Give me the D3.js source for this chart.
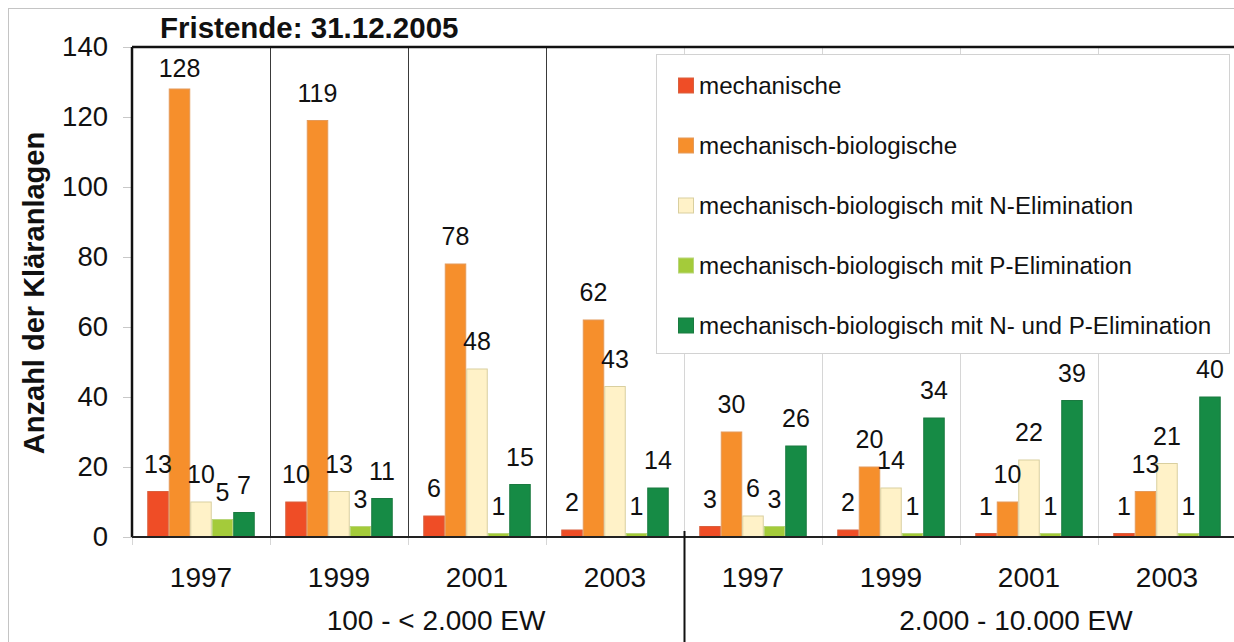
<!DOCTYPE html>
<html>
<head>
<meta charset="utf-8">
<script src="https://cdn.jsdelivr.net/npm/d3@7"></script>
<style>
  body { margin: 0; background: #fff; }
  svg text { font-family: "Liberation Sans", Arial, sans-serif; fill: #111; }
</style>
</head>
<body>
<div id="c"></div>
<script>
"use strict";

// categories
const years = ["1997", "1999", "2001", "2003", "1997", "1999", "2001", "2003"]
const sizeClasses = ["100 - < 2.000 EW", "2.000 - 10.000 EW"]
const yTicks = [0, 20, 40, 60, 80, 100, 120, 140]

// series
const seriesNames = [
    "mechanische",
    "mechanisch-biologische",
    "mechanisch-biologisch mit N-Elimination",
    "mechanisch-biologisch mit P-Elimination",
    "mechanisch-biologisch mit N- und P-Elimination"
]
const mechanische = [13, 10, 6, 2, 3, 2, 1, 1]
const mechBio = [128, 119, 78, 62, 30, 20, 10, 13]
const mechBioN = [10, 13, 48, 43, 6, 14, 22, 21]
const mechBioP = [5, 3, 1, 1, 3, 1, 1, 1]
const mechBioNP = [7, 11, 15, 14, 26, 34, 39, 40]

const seriesValues = [mechanische, mechBio, mechBioN, mechBioP, mechBioNP]
const fills = ["#ef4d26", "#f68f2c", "#fff2c8", "#a4cb3a", "#168b45"]
const strokes = ["#d9603e", "#e49a5a", "#d9cf9f", "#b9d67a", "#1a7a40"]

const W = 1234, H = 642
const margin = { left: 132, top: 47, right: -2, bottom: 105 }
const plotW = W - margin.left - margin.right
const plotH = H - margin.top - margin.bottom

let svg = d3.select('#c').append('svg')
    .attr('width', W)
    .attr('height', H)

// outer frame
svg.append('rect')
    .attr('x', 8.5).attr('y', 8.5)
    .attr('width', 1300).attr('height', 700)
    .attr('fill', 'none')
    .attr('stroke', '#c4c4c4')

let groups = d3.range(years.length)
let xScale = d3.scaleBand()
    .domain(groups)
    .range([margin.left, margin.left + plotW])
let xInner = d3.scaleBand()
    .domain(d3.range(seriesNames.length))
    .range([0, xScale.bandwidth()])
    .paddingOuter(0.71)
let yScale = d3.scaleLinear()
    .domain([0, 140])
    .range([margin.top + plotH, margin.top])

const y0 = yScale(0)

// vertical separators between the years
groups.slice(1).forEach(i => {
    let x = Math.round(xScale(i)) + 0.5
    let dark = i < 4
    svg.append('line')
        .attr('x1', x).attr('x2', x)
        .attr('y1', margin.top).attr('y2', dark ? y0 : y0 + 8)
        .attr('stroke', dark ? '#3a3a3a' : '#d6d6d6')
})
// small ticks under the axis
groups.slice(0, 4).forEach(i => {
    let x = Math.round(xScale(i)) + 0.5
    svg.append('line')
        .attr('x1', x).attr('x2', x)
        .attr('y1', y0).attr('y2', y0 + 8)
        .attr('stroke', '#d6d6d6')
})

// y axis
let yAxis = svg.append('g')
    .attr('transform', 'translate(' + margin.left + ',0)')
    .call(d3.axisLeft(yScale).tickValues(yTicks).tickSize(9).tickPadding(15))
yAxis.select('.domain').remove()
yAxis.selectAll('line').attr('stroke', '#c8c8c8')
yAxis.selectAll('text')
    .style('font-size', '27.5px')
    .attr('fill', '#111')

svg.append('line')
    .attr('x1', margin.left).attr('x2', margin.left)
    .attr('y1', margin.top).attr('y2', y0)
    .attr('stroke', '#111').attr('stroke-width', 2.5)
svg.append('line')
    .attr('x1', margin.left).attr('x2', W)
    .attr('y1', margin.top).attr('y2', margin.top)
    .attr('stroke', '#111').attr('stroke-width', 2.5)

// legend box
let legend = svg.append('g')
legend.append('rect')
    .attr('x', 656.5).attr('y', 54.5)
    .attr('width', 573).attr('height', 299)
    .attr('fill', '#fff')
    .attr('stroke', '#d2d2d2')
seriesNames.forEach((name, i) => {
    let cy = 85.5 + i * 60
    legend.append('rect')
        .attr('x', 678.5).attr('y', cy - 7.5)
        .attr('width', 15).attr('height', 15)
        .attr('fill', fills[i])
        .attr('stroke', strokes[i])
    legend.append('text')
        .attr('x', 699).attr('y', cy)
        .attr('dy', '0.35em')
        .style('font-size', '24.2px')
        .text(name)
})

// bars
let barLayer = svg.append('g')
seriesValues.forEach((vals, s) => {
    barLayer.selectAll('rect.s' + s)
        .data(vals)
        .enter()
        .append('rect')
            .attr('class', 's' + s)
            .attr('x', (d, i) => xScale(i) + xInner(s) + 0.5)
            .attr('y', d => yScale(d))
            .attr('width', xInner.bandwidth() - 1)
            .attr('height', d => y0 - yScale(d))
            .attr('fill', fills[s])
            .attr('stroke', strokes[s])
            .attr('stroke-width', 1)
})

// x axis line
svg.append('line')
    .attr('x1', margin.left).attr('x2', W)
    .attr('y1', y0).attr('y2', y0)
    .attr('stroke', '#222').attr('stroke-width', 2)

// value labels
seriesValues.forEach((vals, s) => {
    svg.append('g').selectAll('text')
        .data(vals)
        .enter()
        .append('text')
            .attr('x', (d, i) => xScale(i) + xInner(s) + xInner.bandwidth() / 2)
            .attr('y', d => Math.max(yScale(d) - 19, margin.top + 30))
            .attr('text-anchor', 'middle')
            .style('font-size', '25px')
            .text(d => d)
})

// category labels
svg.append('g').selectAll('text')
    .data(years)
    .enter()
    .append('text')
        .attr('x', (d, i) => xScale(i) + xScale.bandwidth() / 2)
        .attr('y', 587)
        .attr('text-anchor', 'middle')
        .style('font-size', '28px')
        .text(d => d)

// size class labels
const classCenters = [xScale(2) + 28, xScale(6) + 56]
sizeClasses.forEach((name, i) => {
    svg.append('text')
        .attr('x', classCenters[i])
        .attr('y', 630)
        .attr('text-anchor', 'middle')
        .style('font-size', '28px')
        .text(name)
})
let sepX = Math.round(xScale(4)) + 0.5
svg.append('line')
    .attr('x1', sepX).attr('x2', sepX)
    .attr('y1', y0 - 6).attr('y2', H)
    .attr('stroke', '#111').attr('stroke-width', 2)

// titles
svg.append('text')
    .attr('x', 160).attr('y', 38)
    .style('font-size', '29.5px')
    .style('font-weight', 'bold')
    .text('Fristende: 31.12.2005')

svg.append('text')
    .attr('transform', 'translate(44,' + 293 + ') rotate(-90)')
    .attr('text-anchor', 'middle')
    .style('font-size', '29px')
    .style('font-weight', 'bold')
    .text('Anzahl der Kläranlagen')
</script>
</body>
</html>
